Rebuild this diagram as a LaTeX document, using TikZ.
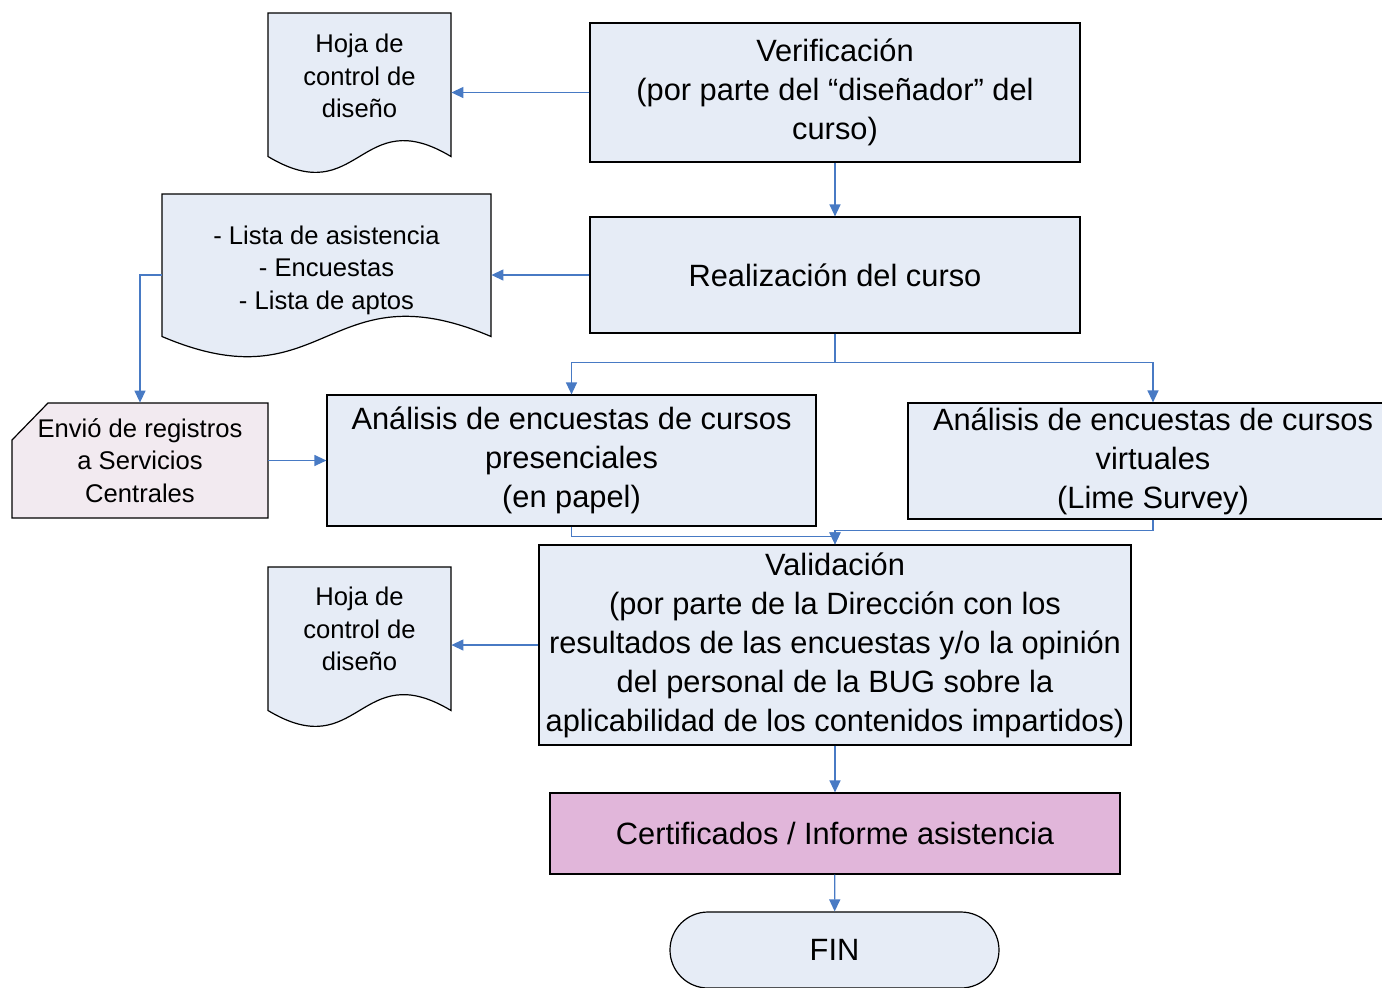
\documentclass[tikz,border=0pt]{standalone}
\usepackage{fontspec}
\setmainfont{Liberation Sans}
\usepackage{tikz}
\usetikzlibrary{arrows.meta}
\definecolor{cajaazul}{RGB}{230,236,246}
\definecolor{cajarosa}{RGB}{242,234,240}
\definecolor{cajamalva}{RGB}{225,182,218}
\definecolor{flechaazul}{RGB}{72,122,196}
\newcommand{\grande}{\fontsize{15.4pt}{19.5pt}\selectfont}
\newcommand{\chica}{\fontsize{12.8pt}{16.25pt}\selectfont}
% hoja: name, left, top, right, side bottom, wave, text y, text
\newcommand{\hoja}[8]{\draw[hojaforma] (#2,#3) -- (#4,#3) -- (#4,#5) .. controls ({(#2+#4)/2},{#5-#6}) and ({(#2+#4)/2},{#5+#6}) .. (#2,#5) -- cycle;
	\node[hojatexto, minimum width={(#4-#2)*0.5pt}] (#1) at ({(#2+#4)/2},#7) {#8};}
\tikzset{
	caja/.style={draw, line width=0.6pt, fill=cajaazul, align=center, inner sep=2pt, font=\grande},
	hojaforma/.style={draw, line width=0.6pt, fill=cajaazul},
	hojatexto/.style={align=center, inner sep=0pt, font=\chica},
	flecha/.style={draw=flechaazul, line width=0.65pt, -{Triangle[length=6pt,width=5.5pt]}}
}

\begin{document}
\begin{tikzpicture}[x=0.5pt, y=-0.5pt]
	\useasboundingbox (0,0) rectangle (1382,987);
	\clip (0,0) rectangle (1382,987);

	% main column
	\node[caja, minimum width=245pt, minimum height=69.5pt] (verif) at (835,92.5) {Verificación\\(por parte del “diseñador” del\\curso)};
	\node[caja, minimum width=245pt, minimum height=58pt] (realiz) at (835,275) {Realización del curso};
	\node[caja, minimum width=244.5pt, minimum height=65.5pt] (pres) at (571.5,460.5) {Análisis de encuestas de cursos\\presenciales\\(en papel)};
	\node[caja, minimum width=245pt, minimum height=58pt] (virt) at (1153,461) {Análisis de encuestas de cursos\\virtuales\\(Lime Survey)};
	\node[caja, minimum width=296pt, minimum height=100pt] (valid) at (835,645) {Validación\\(por parte de la Dirección con los\\resultados de las encuestas y/o la opinión\\del personal de la BUG sobre la\\aplicabilidad de los contenidos impartidos)};
	\node[caja, fill=cajamalva, minimum width=285pt, minimum height=40.5pt] (cert) at (835,833.5) {Certificados / Informe asistencia};
	\node[caja, rounded corners=19pt, minimum width=164.5pt, minimum height=38pt] (fin) at (834.5,950) {FIN};

	% documents
	\hoja{hoja1}{268}{13}{451}{156.5}{55}{76}{Hoja de\\control de\\diseño}
	\hoja{hoja2}{162}{194}{491}{336.5}{70}{270}{- Lista de asistencia\\- Encuestas\\- Lista de aptos}
	\hoja{hoja3}{268}{567}{451}{710.5}{55}{629}{Hoja de\\control de\\diseño}

	% card
	\draw[hojaforma, fill=cajarosa] (12,440) -- (48,403) -- (268,403) -- (268,518) -- (12,518) -- cycle;
	\node[hojatexto, minimum width=128pt, minimum height=57.5pt] (envio) at (140,460.5) {Envió de registros\\a Servicios\\Centrales};

	% connectors
	\draw[flecha] (verif.west) -- (verif.west -| hoja1.east);
	\draw[flecha] (verif) -- (realiz);
	\draw[flecha] (realiz.west) -- (realiz.west -| hoja2.east);
	\draw[flecha] (realiz.west -| hoja2.west) -| (envio.north);
	\draw[flecha] (envio.east) -- (envio.east -| pres.west);
	\draw[flecha] (realiz.south) -- ++(0,29) -| (pres.north);
	\draw[flecha] (realiz.south) -- ++(0,29) -| (virt.north);
	\draw[flecha] (pres.south) -- ++(0,10) -| (valid.north);
	\draw[flecha] (virt.south) -- ++(0,11) -| (valid.north);
	\draw[flecha] (valid.west) -- (valid.west -| hoja3.east);
	\draw[flecha] (valid) -- (cert);
	\draw[flecha] (cert) -- (fin);
\end{tikzpicture}
\end{document}
